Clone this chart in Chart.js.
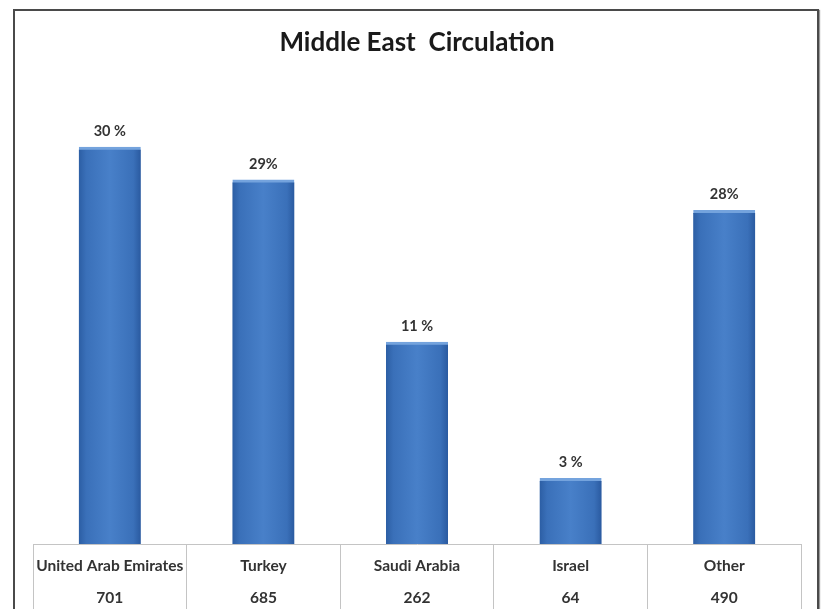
<!DOCTYPE html>
<html>
<head>
<meta charset="utf-8">
<title>Middle East Circulation</title>
<script src="https://cdn.jsdelivr.net/npm/chart.js@4.4.1/dist/chart.umd.min.js"></script>
<style>
  html, body { margin: 0; padding: 0; background: #fff; overflow: hidden; }
  #wrap { position: relative; width: 822px; height: 614px; }
  #frame {
    position: absolute; left: 13px; top: 9px; width: 802px; height: 700px;
    border: 2px solid #4a4a4a; border-bottom: none;
    box-shadow: 1px 1px 1px #9a9a9a;
    pointer-events: none;
  }
</style>
</head>
<body>
<div id="wrap">
  <canvas id="myChart"></canvas>
  <div id="frame"></div>
</div>
<script>
// categories + table row
var countries = ["United Arab Emirates", "Turkey", "Saudi Arabia", "Israel", "Other"];
var circulation = [701, 685, 262, 64, 490];
// bar heights as drawn in the picture (hidden axis 0-100)
var barLevels = [84.5, 77.5, 43, 14, 71];
// labels written above the bars
var pctLabels = ["30 %", "29%", "11 %", "3 %", "28%"];

var BAR_W = 62;

// horizontal shading on each bar, darker at the sides
function barFill(ctx) {
  var chart = ctx.chart;
  var xs = chart.scales.x;
  if (!xs || !chart.chartArea) return '#4178c3';
  var x = xs.getPixelForValue(ctx.dataIndex);
  var g = chart.ctx.createLinearGradient(x - BAR_W / 2, 0, x + BAR_W / 2, 0);
  g.addColorStop(0, '#2c5ea4');
  g.addColorStop(0.12, '#3a70b9');
  g.addColorStop(0.5, '#4880c9');
  g.addColorStop(0.88, '#3a70b9');
  g.addColorStop(1, '#2a5aa0');
  return g;
}

// percent text above bars
const pctPlugin = {
  id: 'pctText',
  afterDatasetsDraw(chart) {
    var c = chart.ctx;
    var meta = chart.getDatasetMeta(0);
    c.save();
    c.font = "bold 14.5px Lato, 'Open Sans', sans-serif";
    c.fillStyle = '#333';
    c.textAlign = 'center';
    c.textBaseline = 'middle';
    meta.data.forEach(function (bar, i) {
      c.fillText(pctLabels[i], bar.x, bar.y - 16);
    });
    c.restore();
  }
};

const config = {
  type: 'bar',
  data: {
    labels: countries.map(function (n, i) { return [n, String(circulation[i])]; }),
    datasets: [{
      data: barLevels,
      backgroundColor: barFill,
      borderColor: '#74a3dd',
      borderWidth: { top: 3, left: 0, right: 0, bottom: 0 },
      borderSkipped: false,
      barThickness: BAR_W
    }]
  },
  options: {
    responsive: true,
    maintainAspectRatio: false,
    animation: false,
    // bottom padding leaves room for the table rows under the axis
    layout: { padding: { top: 0, left: 33, right: 21, bottom: 70 } },
    plugins: {
      legend: { display: false },
      tooltip: { enabled: false },
      title: {
        display: true,
        text: 'Middle East  Circulation',
        color: '#1a1a1a',
        font: { family: "Lato, 'Open Sans', sans-serif", size: 26, weight: 'bold', lineHeight: 1.2 },
        padding: { top: 27, bottom: 16 }
      }
    },
    scales: {
      y: { display: false, min: 0, max: 100 },
      x: {
        border: { display: true, color: '#c4c4c4', width: 1 },
        grid: {
          offset: true,
          drawOnChartArea: false,
          drawTicks: true,
          tickLength: 70,
          color: '#c4c4c4'
        },
        ticks: {
          color: '#333',
          mirror: true,   // no clipping to the thin axis box
          padding: -38,
          maxRotation: 0,
          autoSkip: false,
          font: { family: "Lato, 'Open Sans', sans-serif", size: 15.5, weight: 'bold', lineHeight: 2.06 }
        }
      }
    }
  },
  plugins: [pctPlugin]
};

var myChart = new Chart(document.getElementById("myChart"), config);
</script>
</body>
</html>
